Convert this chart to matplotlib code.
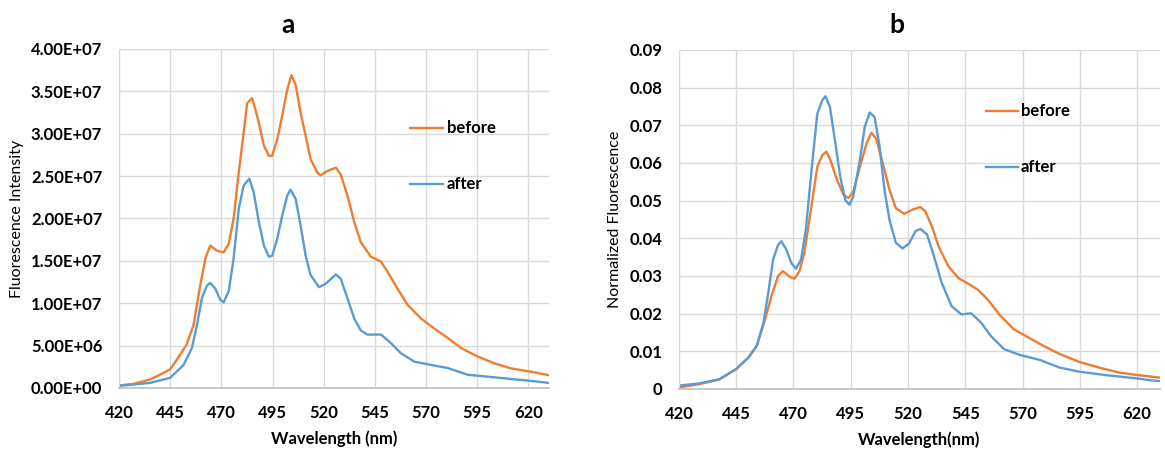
import matplotlib
matplotlib.use("Agg")
import matplotlib.pyplot as plt
from matplotlib.ticker import FuncFormatter

plt.rcParams['font.family'] = ['Lato', 'DejaVu Sans']

# Panel a: raw fluorescence intensity
wl_a_before = [420, 427, 435, 440, 445, 449, 453, 456.4, 459.7, 462.2, 464.6, 467.9, 471.1, 473.6,
               476, 478.5, 480.9, 482.6, 485, 487.5, 490.8, 493.2, 494.8, 497.3, 499.7, 502.2,
               504.2, 506.3, 508.7, 511.2, 513.6, 516.9, 518.5, 521.8, 525.9, 528.3, 531.6, 534.9,
               538.1, 543, 548, 551.2, 556.1, 561, 567.5, 574.1, 580.6, 587.2, 595.3, 603.5,
               611.7, 620.3, 630]
int_a_before = [0.03, 0.047, 0.10, 0.156, 0.22, 0.36, 0.51, 0.74, 1.21, 1.53, 1.68, 1.62, 1.60, 1.70,
                2.00, 2.54, 3.01, 3.36, 3.42, 3.21, 2.86, 2.74, 2.74, 2.93, 3.21, 3.52,
                3.69, 3.58, 3.25, 2.97, 2.70, 2.54, 2.51, 2.56, 2.60, 2.52, 2.27, 1.96,
                1.72, 1.55, 1.49, 1.37, 1.17, 0.98, 0.82, 0.70, 0.59, 0.47, 0.37, 0.29,
                0.23, 0.196, 0.15]
wl_a_after = [420, 435.2, 445, 451.5, 455.6, 458.1, 460.5, 463, 464.6, 467.1, 469.5, 471.1, 473.6,
              476, 478.5, 480.9, 483.7, 485.8, 488.3, 490.8, 493.2, 494.8, 497.3, 499.7, 502.2,
              503.8, 506.3, 508.7, 511.2, 513.6, 517.7, 521, 525.9, 528.3, 531.6, 534.9, 538.1,
              541.4, 548, 552.8, 557.7, 564.3, 570.8, 580.6, 590.4, 598.6, 610, 620.3, 630]
int_a_after = [0.025, 0.06, 0.12, 0.27, 0.47, 0.74, 1.06, 1.21, 1.24, 1.17, 1.04, 1.01, 1.14,
               1.53, 2.11, 2.39, 2.47, 2.31, 1.96, 1.68, 1.55, 1.56, 1.76, 2.03, 2.27,
               2.34, 2.23, 1.92, 1.56, 1.33, 1.19, 1.23, 1.34, 1.29, 1.06, 0.82, 0.68,
               0.63, 0.63, 0.53, 0.41, 0.31, 0.28, 0.235, 0.156, 0.137, 0.11, 0.086, 0.06]
int_a_before = [v * 1e7 for v in int_a_before]
int_a_after = [v * 1e7 for v in int_a_after]

# Panel b: normalized fluorescence
wl_b_before = [420, 429, 437.6, 445, 450.4, 454, 457.6, 460.4, 463.3, 465.4, 468.3, 470.4, 472.6,
               474.7, 477.6, 480.4, 482.6, 484.4, 486.1, 489, 491.9, 494, 496.1, 499, 501.9,
               504, 506.1, 509, 511.9, 514.7, 518.3, 521.9, 525.4, 527.6, 530.4, 533.3, 537.6,
               541.9, 546.1, 550.4, 554.7, 560.4, 566.1, 571.9, 579, 586.1, 594.7, 603.3,
               611.9, 620, 626.1, 630]
norm_b_before = [0.0004, 0.0013, 0.0025, 0.0053, 0.0084, 0.0115, 0.0185, 0.0247, 0.030, 0.0313,
                 0.0298, 0.0293, 0.0313, 0.036, 0.0476, 0.059, 0.0621, 0.063, 0.0608, 0.0555,
                 0.0515, 0.0507, 0.0524, 0.059, 0.0652, 0.068, 0.0665, 0.0599, 0.0529, 0.048,
                 0.0465, 0.0476, 0.0483, 0.0471, 0.0432, 0.0379, 0.0326, 0.0295, 0.028, 0.0264,
                 0.0238, 0.0194, 0.0159, 0.0139, 0.0115, 0.0093, 0.0072, 0.0057, 0.0044, 0.0037,
                 0.0033, 0.003]
wl_b_after = [420, 429, 437.6, 445, 450.4, 454, 456.9, 459, 461.1, 463.3, 464.7, 466.9, 469, 471.1,
              473.3, 475.4, 477.6, 480.4, 482.6, 484, 485.9, 488.3, 490.4, 492.6, 494.4, 496.1,
              499, 501.1, 503.3, 505.4, 507.6, 509.7, 511.9, 514.7, 517.6, 520.4, 523.3, 525.4,
              528.3, 531.1, 534.7, 539, 543.3, 547.6, 551.9, 556.1, 561.9, 569, 577.6, 586.1,
              594.7, 606.1, 620, 626.1, 630]
norm_b_after = [0.0009, 0.0015, 0.0026, 0.0053, 0.0084, 0.0115, 0.0176, 0.0256, 0.0344, 0.0383,
                0.0392, 0.037, 0.0335, 0.0319, 0.0344, 0.0423, 0.0564, 0.0731, 0.0767, 0.0777,
                0.0749, 0.0652, 0.0564, 0.0502, 0.0489, 0.0511, 0.0608, 0.0696, 0.0734, 0.0722,
                0.0643, 0.0529, 0.0449, 0.0388, 0.0373, 0.0386, 0.0419, 0.0425, 0.041, 0.0357,
                0.0282, 0.022, 0.0198, 0.0201, 0.0176, 0.0141, 0.0106, 0.009, 0.0077, 0.0057,
                0.0046, 0.0037, 0.0028, 0.0023, 0.0021]

x_ticks = [420, 445, 470, 495, 520, 545, 570, 595, 620]
orange = '#ED7D31'
blue = '#5B9BD5'
grid_col = '#D9D9D9'

fig = plt.figure(figsize=(11.65, 4.51), dpi=100)
ax_a = fig.add_axes([0.1021, 0.1397, 0.3691, 0.7517])
ax_b = fig.add_axes([0.5828, 0.1375, 0.4129, 0.7517])


def style_axes(ax):
    ax.set_xlim(420, 630)
    ax.set_xticks(x_ticks)
    ax.grid(True, color=grid_col, linewidth=1.0)
    ax.set_axisbelow(True)
    for s in ['top', 'right']:
        ax.spines[s].set_visible(False)
    ax.spines['left'].set_color(grid_col)
    ax.spines['bottom'].set_color('#BFBFBF')
    ax.spines['bottom'].set_linewidth(1.2)
    ax.tick_params(length=0, labelsize=12)
    ax.tick_params(axis='x', pad=12)
    ax.tick_params(axis='y', pad=12)
    for lab in ax.get_xticklabels() + ax.get_yticklabels():
        lab.set_fontweight('bold')


# panel a
ax_a.plot(wl_a_before, int_a_before, color=orange, lw=1.7, label='before')
ax_a.plot(wl_a_after, int_a_after, color=blue, lw=1.7, label='after')
ax_a.set_ylim(0, 4e7)
ax_a.set_yticks([i * 5e6 for i in range(9)])
ax_a.yaxis.set_major_formatter(FuncFormatter(lambda v, p: '{:.2E}'.format(v)))
style_axes(ax_a)
ax_a.set_xlabel('Wavelength (nm)', fontsize=12, fontweight='bold', labelpad=7)
ax_a.set_ylabel('Fluorescence Intensity', fontsize=11.5, labelpad=5)
ax_a.legend(loc='center left', bbox_to_anchor=(0.677, 0.683), frameon=False,
            handlelength=2.0, handletextpad=0.2, labelspacing=2.4,
            borderpad=0, borderaxespad=0, prop={'weight': 'bold', 'size': 12})

# panel b
ax_b.plot(wl_b_before, norm_b_before, color=orange, lw=1.7, label='before')
ax_b.plot(wl_b_after, norm_b_after, color=blue, lw=1.7, label='after')
ax_b.set_ylim(0, 0.09)
ax_b.set_yticks([i * 0.01 for i in range(10)])
ax_b.yaxis.set_major_formatter(FuncFormatter(lambda v, p: '0' if abs(v) < 1e-9 else '{:.2f}'.format(v)))
style_axes(ax_b)
ax_b.set_xlabel('Wavelength(nm)', fontsize=12, fontweight='bold', labelpad=7)
ax_b.set_ylabel('Normalized Fluorescence', fontsize=11.5, labelpad=5)
ax_b.legend(loc='center left', bbox_to_anchor=(0.638, 0.736), frameon=False,
            handlelength=1.9, handletextpad=0.2, labelspacing=2.4,
            borderpad=0, borderaxespad=0, prop={'weight': 'bold', 'size': 12})

fig.text(288 / 1165, 1 - 25 / 451, 'a', ha='center', va='center', fontsize=19, fontweight='bold')
fig.text(897 / 1165, 1 - 25 / 451, 'b', ha='center', va='center', fontsize=19, fontweight='bold')

fig.savefig('out.png', dpi=100)
